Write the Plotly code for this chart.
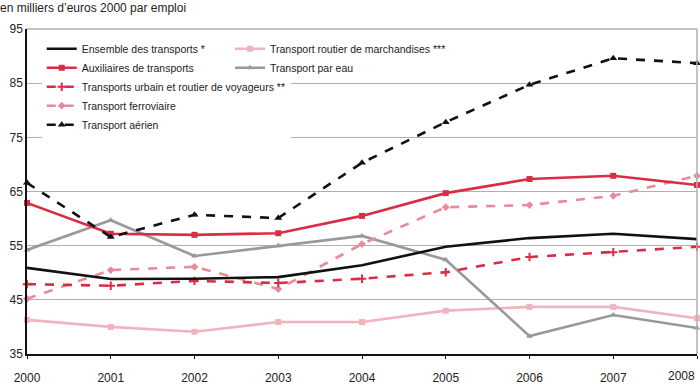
import plotly.graph_objects as go

years = [2000, 2001, 2002, 2003, 2004, 2005, 2006, 2007, 2008]
ensemble = [50.9, 48.85, 48.9, 49.2, 51.4, 54.8, 56.4, 57.2, 56.2]
auxiliaires = [62.9, 57.2, 57.0, 57.3, 60.5, 64.7, 67.3, 67.9, 66.2]
urbain = [47.9, 47.6, 48.5, 48.1, 48.9, 50.1, 52.9, 53.8, 54.8]
ferroviaire = [45.2, 50.5, 51.1, 47.0, 55.3, 62.1, 62.5, 64.2, 67.9]
aerien = [66.6, 56.6, 60.7, 60.1, 70.3, 77.8, 84.7, 89.6, 88.7]
marchandises = [41.3, 40.0, 39.1, 40.9, 40.9, 43.0, 43.7, 43.7, 41.6]
eau = [54.2, 59.7, 53.1, 55.0, 56.8, 52.4, 38.3, 42.2, 39.8]

names = ["Ensemble des transports *", "Auxiliaires de transports",
         "Transports urbain et routier de voyageurs **", "Transport ferroviaire",
         "Transport aérien", "Transport routier de marchandises ***", "Transport par eau"]
year_labels = ["2000", "2001", "2002", "2003", "2004", "2005", "2006", "2007", "2008"]
y_ticks = [35, 45, 55, 65, 75, 85, 95]

RED = "#d92c45"
PINK = "#e98a9b"
LPINK = "#f0b4be"
GRAY = "#999999"
BLACK = "#111111"

fig = go.Figure()

def add(y, name, color, dash, symbol, size, legend, width=2.6):
    mode = "lines+markers" if symbol else "lines"
    fig.add_trace(go.Scatter(
        x=years, y=y, name=name, mode=mode,
        line=dict(color=color, width=width, dash=dash),
        marker=dict(symbol=symbol or "circle", size=size, color=color),
        legend=legend, cliponaxis=False,
    ))

add(marchandises, names[5], LPINK, "solid", "square", 6, "legend2")
add(eau, names[6], GRAY, "solid", "triangle-up", 6, "legend2")
add(ferroviaire, names[3], PINK, "dash", "diamond", 6, "legend")
add(urbain, names[2], RED, "dash", "cross-thin", 6, "legend")
add(ensemble, names[0], BLACK, "solid", None, 0, "legend")
add(auxiliaires, names[1], RED, "solid", "square", 6, "legend")
add(aerien, names[4], BLACK, "dash", "triangle-up", 7, "legend")

fig.data[3].marker.line = dict(color=RED, width=2)

FONT = "Liberation Sans, Arial, sans-serif"

tick_text = year_labels[:-1] + [""]
annotations = [dict(
    text="en milliers d\u2019euros 2000 par emploi",
    xref="paper", yref="paper", x=-27/670, y=1.0, xanchor="left", yanchor="bottom",
    yshift=12, showarrow=False, xshift=-2,
    font=dict(size=12, family=FONT, color="#222222"),
), dict(
    text=year_labels[-1], xref="paper", yref="paper", x=1.0, y=-22/325,
    xanchor="right", yanchor="middle", showarrow=False,
    font=dict(size=12, family=FONT, color="#222222"),
)]

fig.update_layout(
    width=700, height=386,
    margin=dict(l=27, r=3, t=29, b=32, autoexpand=False),
    paper_bgcolor="white", plot_bgcolor="white",
    font=dict(family=FONT, size=12, color="#222222"),
    showlegend=True,
    legend=dict(
        x=0.022, y=0.984, xanchor="left", yanchor="top",
        bgcolor="white", borderwidth=0,
        font=dict(size=10.5, family=FONT, color="#222222"),
        traceorder="normal", tracegroupgap=0,
        itemwidth=30,
    ),
    legend2=dict(
        x=0.303, y=0.984, xanchor="left", yanchor="top",
        bgcolor="white", borderwidth=0,
        font=dict(size=10.5, family=FONT, color="#222222"),
        traceorder="normal",
        itemwidth=30,
    ),
    xaxis=dict(
        range=[2000, 2008], tickvals=years, ticktext=tick_text,
        showgrid=False, showline=True, linecolor=BLACK, linewidth=1.5,
        ticks="outside", ticklen=3, tickcolor=BLACK, ticklabelstandoff=9,
        mirror=False, zeroline=False, automargin=False,
        tickfont=dict(size=12, family=FONT, color="#222222"),
    ),
    yaxis=dict(
        range=[35, 95], tickvals=y_ticks,
        showgrid=True, gridcolor="#b0b0b0", gridwidth=1,
        showline=True, linecolor=BLACK, linewidth=1.5,
        ticks="", zeroline=False, automargin=False,
        tickfont=dict(size=12, family=FONT, color="#222222"),
    ),
    annotations=annotations,
    shapes=[
        dict(type="line", xref="paper", yref="paper", x0=0, x1=1, y0=1, y1=1,
             line=dict(color="#b0b0b0", width=1.5)),
        dict(type="line", xref="paper", yref="paper", x0=1, x1=1, y0=0, y1=1,
             line=dict(color="#b0b0b0", width=1.5)),
    ],
)

order = {names[0]: 1, names[1]: 2, names[2]: 3, names[3]: 4, names[4]: 5,
         names[5]: 1, names[6]: 2}
for tr in fig.data:
    tr.legendrank = order[tr.name]

fig.write_html("out.html", config={"displayModeBar": False},
               post_script="document.body.style.margin='0';document.body.style.padding='0';")
